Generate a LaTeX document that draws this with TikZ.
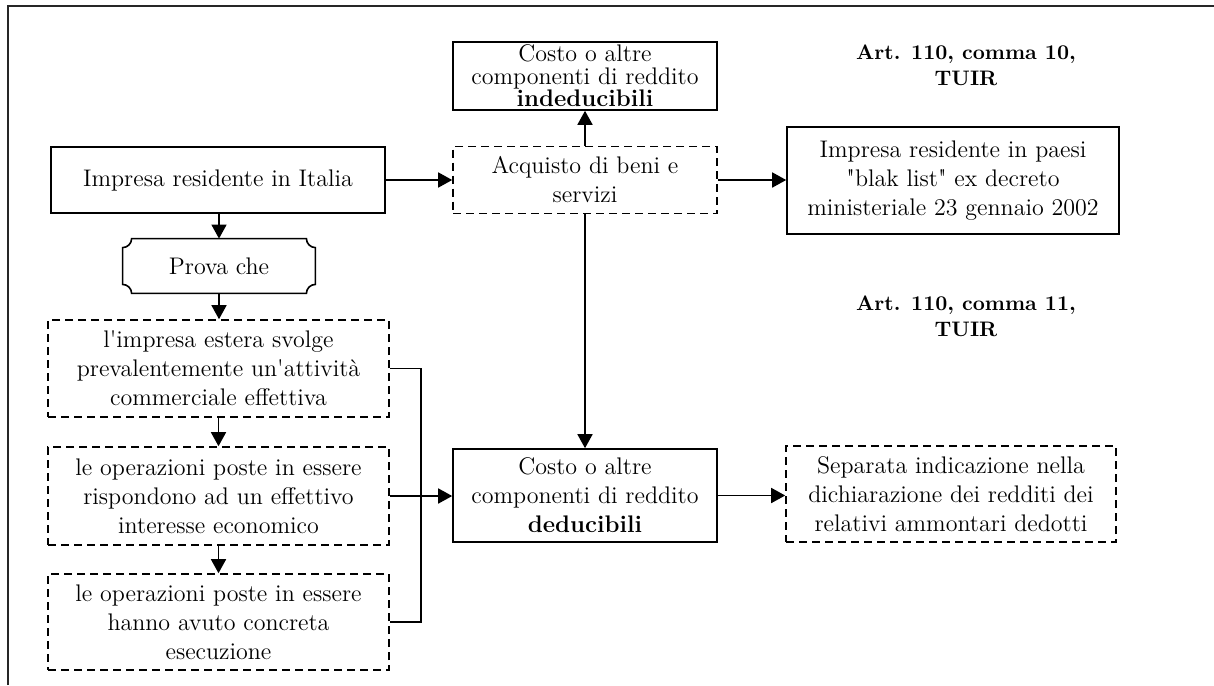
\documentclass[tikz,border=0pt]{standalone}
\usepackage{fontspec}
\setmainfont{Latin Modern Roman}[Ligatures=TeXOff]
\usetikzlibrary{arrows.meta,calc}
\begin{document}
\begin{tikzpicture}[x=0.5pt,y=0.5pt,
  txt/.style={font=\fontsize{12}{14.5}\selectfont},
  bx/.style={draw, line width=0.8pt, align=center, inner sep=0pt, txt},
  dbx/.style={bx, dash pattern=on 4pt off 2.5pt},
  art/.style={align=center, font=\fontsize{10.5}{13}\selectfont\bfseries},
  arr/.style={line width=0.8pt, -{Triangle[length=7pt,width=7.5pt]}},
  ln/.style={line width=0.8pt}]
\useasboundingbox (0,0) rectangle (1214,-685);
\draw[line width=1pt, black!85] (8,-685) -- (8,-6) -- (1214,-6);

\node[bx, font=\fontsize{12}{11.2}\selectfont, minimum width=132pt, minimum height=34pt] (top) at (585,-76) {Costo o altre\\componenti di reddito\\\textbf{indeducibili}};
\node[dbx, minimum width=132pt, minimum height=33.5pt] (acq) at (585,-180) {Acquisto di beni e\\servizi};
\node[bx, minimum width=167pt, minimum height=33pt] (ita) at (218,-180) {Impresa residente in Italia};
\node[bx, minimum width=166pt, minimum height=53.5pt] (pae) at (953,-180.5) {Impresa residente in paesi\\"blak list" ex decreto\\ministeriale 23 gennaio 2002};
\node[txt, minimum width=96pt, minimum height=27pt, inner sep=0pt] (pro) at (219,-266) {Prova che};
\draw[line width=0.8pt]
  ($(pro.north west)+(9,0)$) -- ($(pro.north east)+(-9,0)$)
  arc[start angle=180,end angle=270,radius=4.5pt]
  -- ($(pro.south east)+(0,9)$)
  arc[start angle=90,end angle=180,radius=4.5pt]
  -- ($(pro.south west)+(9,0)$)
  arc[start angle=0,end angle=90,radius=4.5pt]
  -- ($(pro.north west)+(0,-9)$)
  arc[start angle=270,end angle=360,radius=4.5pt] -- cycle;
\node[dbx, minimum width=170.5pt, minimum height=48.5pt] (b1) at (218.5,-368.5) {l'impresa estera svolge\\prevalentemente un'attività\\commerciale effettiva};
\node[dbx, minimum width=170.5pt, minimum height=49pt] (b2) at (218.5,-496) {le operazioni poste in essere\\rispondono ad un effettivo\\interesse economico};
\node[dbx, minimum width=170.5pt, minimum height=48pt] (b3) at (218.5,-622) {le operazioni poste in essere\\hanno avuto concreta\\esecuzione};
\node[bx, minimum width=132pt, minimum height=46.5pt] (ded) at (585,-495.5) {Costo o altre\\componenti di reddito\\\textbf{deducibili}};
\node[dbx, minimum width=165pt, minimum height=48pt] (sep) at (951,-494) {Separata indicazione nella\\dichiarazione dei redditi dei\\relativi ammontari dedotti};
\node[art] (a10) at (966,-65) {Art. 110, comma 10,\\TUIR};
\node[art] (a11) at (966,-316) {Art. 110, comma 11,\\TUIR};

\draw[arr] (acq.north) -- (top.south);
\draw[arr] (ita.east) -- (acq.west);
\draw[arr] (acq.east) -- (acq.east -| pae.west);
\draw[arr] (acq.south) -- (ded.north);
\draw[arr] (pro.north |- ita.south) -- (pro.north);
\draw[arr] (pro.south) -- (pro.south |- b1.north);
\draw[arr] (b1.south) -- (b2.north);
\draw[arr] (b2.south) -- (b3.north);
\draw[ln] (b1.east) -- ++(31,0) |- (b3.east);
\draw[arr] (b2.east) -- (b2.east -| ded.west);
\draw[arr] (ded.east) -- (ded.east -| sep.west);
\end{tikzpicture}
\end{document}
